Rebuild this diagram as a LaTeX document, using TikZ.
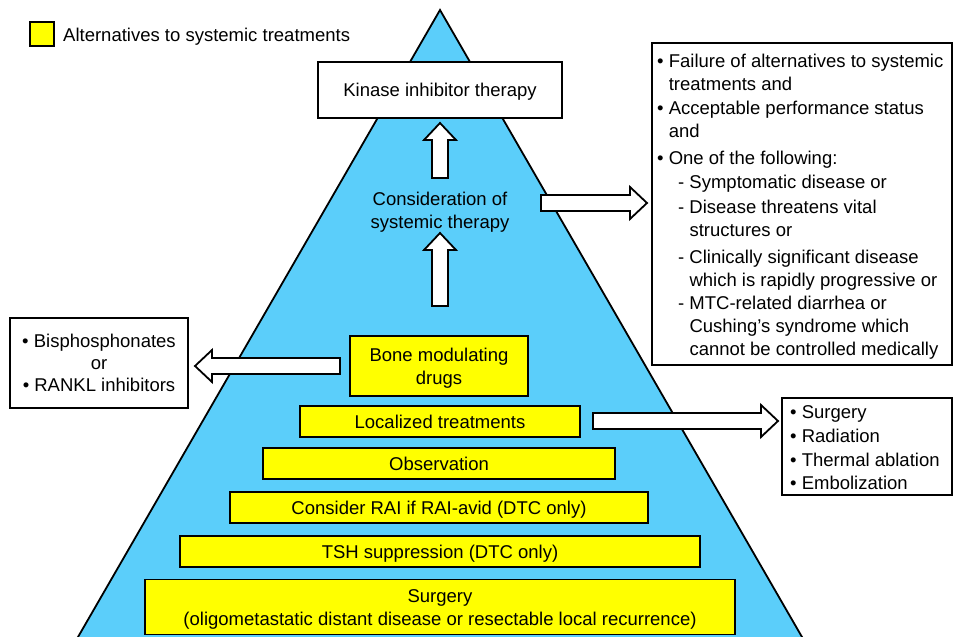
\documentclass[tikz,border=0pt]{standalone}
\usepackage{fontspec}
\setmainfont{Liberation Sans}
\usetikzlibrary{calc}
\definecolor{pyrblue}{RGB}{91,206,250}
\definecolor{altyellow}{RGB}{255,255,0}
\newcommand{\blockarr}[2]{%
  \coordinate (hb) at ($(#2)!17pt!(#1)$);
  \draw[arrowbody] ($(#1)!8pt!90:(#2)$) -- ($(hb)!8pt!90:(#2)$) -- ($(hb)!16pt!90:(#2)$) -- (#2)
    -- ($(hb)!16pt!-90:(#2)$) -- ($(hb)!8pt!-90:(#2)$) -- ($(#1)!8pt!-90:(#2)$) -- cycle;}
\begin{document}
\begin{tikzpicture}[x=1pt,y=-1pt,
  every node/.style={font=\fontsize{18.5}{23}\selectfont, inner sep=0pt},
  box/.style={draw, line width=1.8pt, fill=white},
  ybox/.style={draw, line width=1.8pt, fill=altyellow},
  oneline/.style={text height=13.3pt, text depth=0pt},
  twoline/.style={text height=36.3pt, text depth=0pt},
  arrowbody/.style={draw, line width=1.8pt, fill=white, line join=miter}]
\useasboundingbox (0,0) rectangle (953,637);
\begin{scope}
  \clip (0,0) rectangle (953,637);
  \draw[line width=1.8pt, fill=pyrblue] (440,10) -- (70.5,650) -- (809.5,650) -- cycle;
\end{scope}

% legend
\node[ybox, minimum width=24, minimum height=24] (leg) at (42,34) {};
\node[anchor=west, oneline] (legt) at (63,35) {Alternatives to systemic treatments};

% pyramid content
\node[box, oneline, minimum width=244, minimum height=56] (kin) at (440,90) {Kinase inhibitor therapy};
\node[align=center, twoline] (cons) at (440,210) {Consideration of\\systemic therapy};
\node[ybox, twoline, minimum width=178, minimum height=60, align=center] (bone) at (439,366) {Bone modulating\\drugs};
\node[ybox, oneline, minimum width=280, minimum height=31] (loc) at (440,421.5) {Localized treatments};
\node[ybox, oneline, minimum width=352, minimum height=31] (obs) at (439,463.5) {Observation};
\node[ybox, oneline, minimum width=418, minimum height=31] (rai) at (439,507.5) {Consider RAI if RAI-avid (DTC only)};
\node[ybox, oneline, minimum width=520, minimum height=31] (tsh) at (440,551.5) {TSH suppression (DTC only)};
\node[ybox, twoline, minimum width=590, minimum height=55, align=center] (surg) at (440,607) {Surgery\\(oligometastatic distant disease or resectable local recurrence)};

% side boxes
\node[box, minimum width=178, minimum height=90, align=center, text height=57.3pt, text depth=0pt,
  font=\fontsize{18.5}{22}\selectfont] (bis) at (99,363) {• Bisphosphonates\\or\\• RANKL inhibitors};

\node[box, minimum width=300, minimum height=322] (crit) at (802,204) {};
\node[anchor=north west, align=left] (critt) at (657,54) {%
• Failure of alternatives to systemic\\
\phantom{• }treatments and\\[1pt]
• Acceptable performance status\\
\phantom{• }and\\[4pt]
• One of the following:\\[1pt]
\hspace*{21pt}- Symptomatic disease or\\[2pt]
\hspace*{21pt}- Disease threatens vital\\
\hspace*{21pt}\phantom{- }structures or\\[4pt]
\hspace*{21pt}- Clinically significant disease\\
\hspace*{21pt}\phantom{- }which is rapidly progressive or\\
\hspace*{21pt}- MTC-related diarrhea or\\
\hspace*{21pt}\phantom{- }Cushing’s syndrome which\\
\hspace*{21pt}\phantom{- }cannot be controlled medically};

\node[box, minimum width=170, minimum height=97] (tech) at (867,446.5) {};
\node[anchor=north west, align=left, font=\fontsize{18.5}{23.7}\selectfont] (techt) at (790,405.5) {%
• Surgery\\
• Radiation\\
• Thermal ablation\\
• Embolization};

% arrows
\coordinate (a1b) at (440,178);
\coordinate (a1t) at (440,123);
\coordinate (a2b) at (440,306);
\coordinate (a2t) at (440,233);
\coordinate (a3s) at (541,203);
\coordinate (a3e) at (647,203);
\coordinate (a4s) at (340,366);
\coordinate (a4e) at (195,366);
\coordinate (a5s) at (593,421);
\coordinate (a5e) at (778,421);
\blockarr{a1b}{a1t}
\blockarr{a2b}{a2t}
\blockarr{a3s}{a3e}
\blockarr{a4s}{a4e}
\blockarr{a5s}{a5e}
\end{tikzpicture}
\end{document}
